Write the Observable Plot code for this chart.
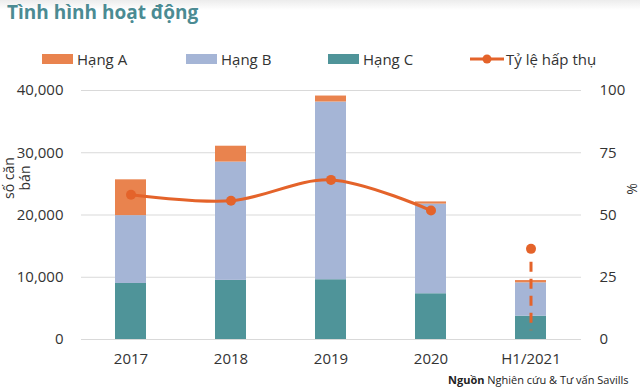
<!DOCTYPE html>
<html>
<head>
<meta charset="utf-8">
<script src="https://cdn.jsdelivr.net/npm/d3@7"></script>
<script src="https://cdn.jsdelivr.net/npm/@observablehq/plot@0.6"></script>
<style>
  html, body { margin: 0; padding: 0; background: #fff; }
  body { width: 640px; height: 388px; position: relative; overflow: hidden; font-family: "Open Sans", sans-serif; color: #333; }
  #shade { position: absolute; left: 0; top: 0; width: 640px; height: 10px; background: linear-gradient(#ececec, #ffffff); }
  #title { position: absolute; left: 7px; top: -1px; font-size: 19px; font-weight: bold; color: #4B8B93; }
  #chart { position: absolute; left: 0; top: 0; }
  .leg { position: absolute; top: 48px; font-size: 15px; color: #333; display: flex; align-items: center; height: 22px; }
  .sw { display: inline-block; width: 31px; height: 10px; margin-right: 4px; }
  .ylab { position: absolute; font-size: 14px; color: #333; transform: translate(-50%, -50%) rotate(-90deg); white-space: nowrap; }
  #source { position: absolute; left: 448px; top: 372px; font-size: 11px; color: #222; }
</style>
</head>
<body>
<div id="shade"></div>
<div id="chart"></div>
<div id="title">Tình hình hoạt động</div>
<div id="legend"></div>
<div class="ylab" style="left:8px; top:178px;">số căn</div>
<div class="ylab" style="left:24px; top:178px;">bán</div>
<div class="ylab" style="left:631px; top:189px;">%</div>
<div id="source"><b>Nguồn</b> Nghiên cứu &amp; Tư vấn Savills</div>
<script>
// ---- data ----
const years = ["2017", "2018", "2019", "2020", "H1/2021"];
const series = ["Hạng A", "Hạng B", "Hạng C"];
const hangA = [5750, 2550, 960, 350, 370];
const hangB = [10900, 19000, 28550, 14400, 5350];
const hangC = [9000, 9500, 9600, 7350, 3750];
const tyLe = [58.1, 55.7, 64.1, 51.8, 36.4];       // Tỷ lệ hấp thụ (%)
const dashRange = [31, 3.5];                        // dashed marker for H1/2021 (%)
const leftTicks = [0, 10000, 20000, 30000, 40000];
const rightTicks = [0, 25, 50, 75, 100];

const colors = { "Hạng A": "#E9834E", "Hạng B": "#A5B5D6", "Hạng C": "#4F9499" };
const lineColor = "#E4632A";
const scale = 400; // 100% -> 40,000

// stacked table (bottom to top: C, B, A)
const bars = [];
years.forEach((y, i) => {
  bars.push({ year: y, series: "Hạng C", value: hangC[i] });
  bars.push({ year: y, series: "Hạng B", value: hangB[i] });
  bars.push({ year: y, series: "Hạng A", value: hangA[i] });
});
const pts = years.map((y, i) => ({ year: y, pct: tyLe[i] }));
const linePts = pts.slice(0, 4);
const dash = [{ year: years[4], y1: dashRange[0], y2: dashRange[1] }];

const chart = Plot.plot({
  width: 640,
  height: 388,
  marginTop: 90,
  marginBottom: 49,
  marginLeft: 81,
  marginRight: 59,
  style: { fontFamily: "Open Sans, sans-serif", fontSize: "15px", color: "#333", background: "transparent" },
  x: { domain: years, paddingInner: 0.69, paddingOuter: 0.345, label: null },
  y: { domain: [0, 40000], label: null },
  color: { domain: series, range: series.map(s => colors[s]) },
  marks: [
    Plot.ruleY(leftTicks, { stroke: "#d9d9d9", strokeWidth: 1.2 }),
    Plot.barY(bars, { x: "year", y: "value", fill: "series" }),
    Plot.line(linePts, { x: "year", y: d => d.pct * scale, curve: "catmull-rom", stroke: lineColor, strokeWidth: 3 }),
    Plot.ruleX(dash, { x: "year", y1: d => d.y1 * scale, y2: d => d.y2 * scale, stroke: lineColor, strokeWidth: 3, strokeDasharray: "10,7" }),
    Plot.dot(pts, { x: "year", y: d => d.pct * scale, r: 5, fill: lineColor }),
    Plot.axisY({ anchor: "left", ticks: leftTicks, tickSize: 0, tickPadding: 18, tickFormat: d3.format(","), label: null, fontSize: 15 }),
    Plot.axisY({ anchor: "right", ticks: rightTicks.map(t => t * scale), tickSize: 0, tickPadding: 18, tickFormat: d => d / scale, label: null, fontSize: 15 }),
    Plot.axisX({ tickSize: 0, tickPadding: 14, label: null, fontSize: 15 })
  ]
});
document.getElementById("chart").appendChild(chart);

// legend
const legendEl = document.getElementById("legend");
const legX = [42, 186, 328];
series.forEach((s, i) => {
  const d = document.createElement("div");
  d.className = "leg";
  d.style.left = legX[i] + "px";
  d.innerHTML = `<span class="sw" style="background:${colors[s]}"></span>${s}`;
  legendEl.appendChild(d);
});
const lineLeg = document.createElement("div");
lineLeg.className = "leg";
lineLeg.style.left = "470px";
lineLeg.innerHTML = `<svg width="34" height="12" style="margin-right:2px"><line x1="0" y1="6" x2="34" y2="6" stroke="${lineColor}" stroke-width="3"/><circle cx="17" cy="6" r="4.5" fill="${lineColor}"/></svg>Tỷ lệ hấp thụ`;
legendEl.appendChild(lineLeg);
</script>
</body>
</html>
